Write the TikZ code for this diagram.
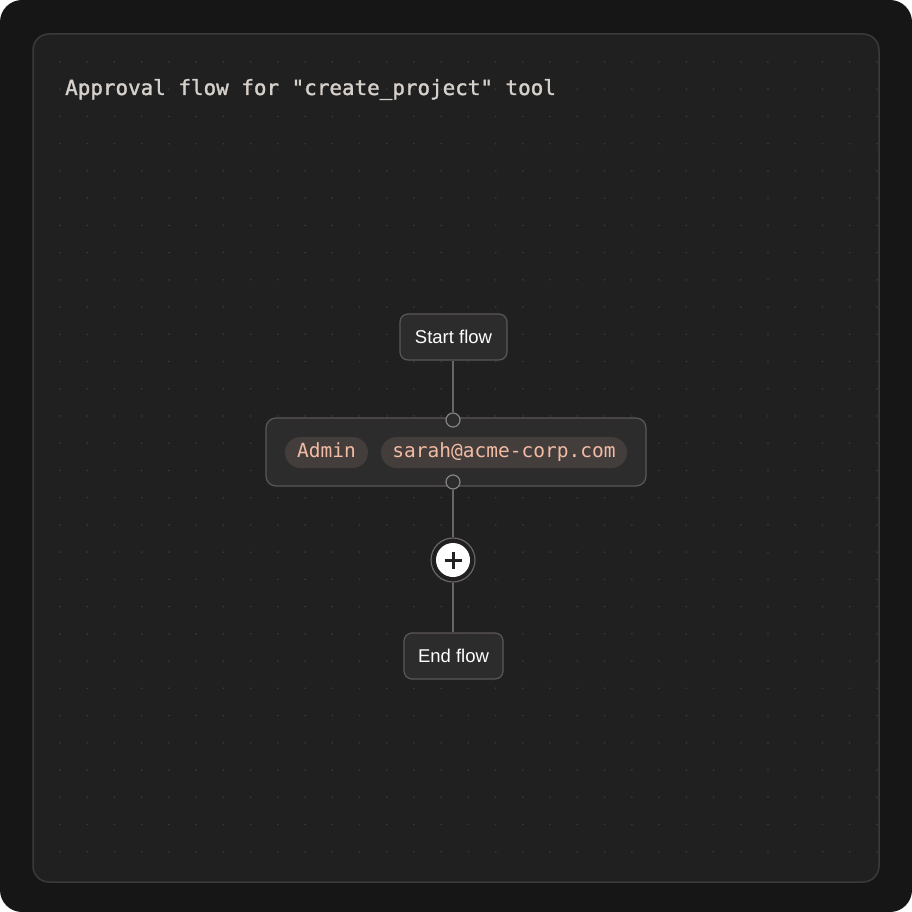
\documentclass[tikz,border=0pt]{standalone}
\usepackage{fontspec}
\setmainfont{Liberation Sans}
\newfontfamily\monof{DejaVu Sans Mono}
\newfontfamily\titlef[FakeBold=1.5]{DejaVu Sans Mono}
\definecolor{outerbg}{HTML}{161616}
\definecolor{panelbg}{HTML}{202020}
\definecolor{panelline}{HTML}{3A3A3A}
\definecolor{dotc}{HTML}{383838}
\definecolor{titlec}{HTML}{D6D0CB}
\definecolor{boxfill}{HTML}{2C2C2C}
\definecolor{boxline}{HTML}{5C5757}
\definecolor{linkc}{HTML}{6A6464}
\definecolor{pillfill}{HTML}{433D3B}
\definecolor{pilltext}{HTML}{F2BCA4}
\definecolor{plusdark}{HTML}{222222}
\tikzset{
  flowbox/.style={draw=boxline, fill=boxfill, line width=1.2pt, rounded corners=8pt, text=white, font=\fontsize{18.5}{22}\selectfont, inner sep=0pt},
  pill/.style={fill=pillfill, rounded corners=15.5pt, text=pilltext, font=\monof\fontsize{19.5}{22}\selectfont, minimum height=31pt, inner sep=0pt, text height=14pt, text depth=4pt},
  port/.style={circle, draw=linkc!80!white, fill=boxfill, line width=1.2pt, minimum size=14pt, inner sep=0pt},
  link/.style={draw=linkc, line width=1.5pt}
}
\begin{document}
\begin{tikzpicture}[x=1pt,y=-1pt]
\useasboundingbox (0,0) rectangle (912,912);
\fill[white] (0,0) rectangle (912,912);
\fill[outerbg, rounded corners=22pt] (0,0) rectangle (912,912);
\draw[panelline, fill=panelbg, line width=1.5pt, rounded corners=16pt] (33,34) rectangle (879,882);
\foreach \i in {0,...,30} {
  \foreach \j in {0,...,29} {
    \fill[dotc] (60+\i*27.23, 62+\j*27.23) circle (1pt);
  }
}
\node[anchor=base west, text=titlec, font=\titlef\fontsize{20.9}{24}\selectfont, inner sep=0pt] (title) at (65,95) {Approval flow for "create\_project" tool};

\node[flowbox, minimum width=107pt, minimum height=46pt] (start) at (453.5,337) {Start flow};
\node[draw=boxline, fill=boxfill, line width=1.2pt, rounded corners=10pt, minimum width=380pt, minimum height=68pt, inner sep=0pt] (approver) at (456,452) {};
\node[pill, minimum width=83pt] (role) at (326.5,452.5) {Admin};
\node[pill, minimum width=246pt] (email) at (504,452.5) {sarah@acme-corp.com};
\node[port] (ptop) at (453,420) {};
\node[port] (pbot) at (453,482) {};
\node[circle, draw=linkc, fill=panelbg, line width=1.2pt, minimum size=44pt, inner sep=0pt] (plus) at (453,560) {};
\node[circle, fill=white, minimum size=34pt, inner sep=0pt] (plusin) at (453,560) {};
\draw[plusdark, line width=3pt] ([xshift=-8.5pt]plusin.center) -- ([xshift=8.5pt]plusin.center);
\draw[plusdark, line width=3pt] ([yshift=-8.5pt]plusin.center) -- ([yshift=8.5pt]plusin.center);
\node[flowbox, minimum width=99pt, minimum height=46pt] (end) at (453.5,656) {End flow};

\draw[link] (start.south -| ptop) -- (ptop.north);
\draw[link] (pbot.south) -- (plus.north);
\draw[link] (plus.south) -- (end.north -| plus);
\end{tikzpicture}
\end{document}
